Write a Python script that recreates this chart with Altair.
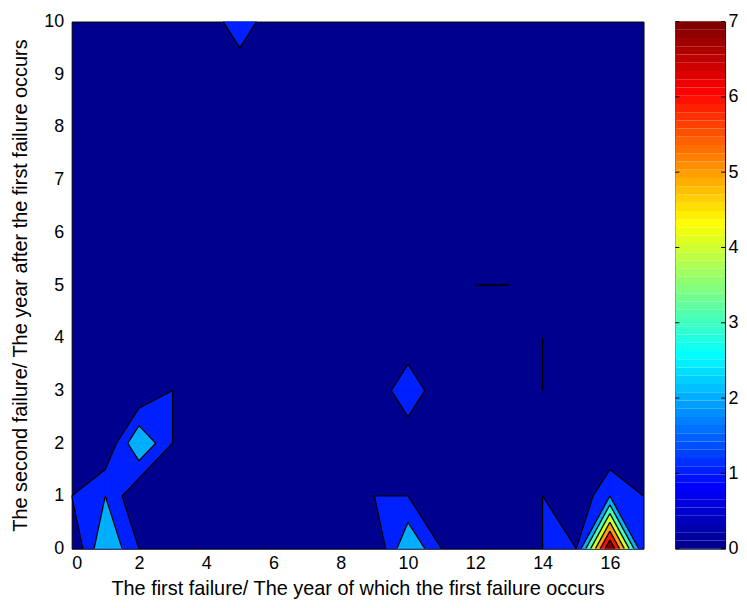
import altair as alt
import numpy as np
import pandas as pd

# ---------------- data ----------------
x_years = list(range(18))          # first failure year 0..17
y_years = list(range(11))          # year after first failure 0..10
# z_grid[row = y][col = x]
z_grid = [
    [0, 3, 1, 0, 0, 0, 0, 0, 0, 0, 3, 1, 0, 0, 1, 1, 8, 1],  # y=0
    [1, 2, 0, 0, 0, 0, 0, 0, 0, 1, 1, 0, 0, 0, 1, 0, 2, 1],  # y=1
    [0, 0, 3, 1, 0, 0, 0, 0, 0, 0, 0, 0, 0, 0, 0, 0, 0, 0],  # y=2
    [0, 0, 0, 1, 0, 0, 0, 0, 0, 0, 2, 0, 0, 0, 1, 0, 0, 0],  # y=3
    [0, 0, 0, 0, 0, 0, 0, 0, 0, 0, 0, 0, 0, 0, 1, 0, 0, 0],  # y=4
    [0, 0, 0, 0, 0, 0, 0, 0, 0, 0, 0, 0, 1, 1, 0, 0, 0, 0],  # y=5
    [0, 0, 0, 0, 0, 0, 0, 0, 0, 0, 0, 0, 0, 0, 0, 0, 0, 0],  # y=6
    [0, 0, 0, 0, 0, 0, 0, 0, 0, 0, 0, 0, 0, 0, 0, 0, 0, 0],  # y=7
    [0, 0, 0, 0, 0, 0, 0, 0, 0, 0, 0, 0, 0, 0, 0, 0, 0, 0],  # y=8
    [0, 0, 0, 0, 0, 0, 0, 0, 0, 0, 0, 0, 0, 0, 0, 0, 0, 0],  # y=9
    [0, 0, 0, 0, 0, 2, 0, 0, 0, 0, 0, 0, 0, 0, 0, 0, 0, 0],  # y=10
]
levels = [1, 2, 3, 4, 5, 6, 7]
cbar_ticks = [0, 1, 2, 3, 4, 5, 6, 7]
x_ticks = [0, 2, 4, 6, 8, 10, 12, 14, 16]
y_ticks = list(range(11))
c_min, c_max = 0, 7
x_title = "The first failure/ The year of which the first failure occurs"
y_title = "The second failure/ The year after the first failure occurs"


# ---------------- MATLAB jet colormap ----------------
def jet(n=64):
    m = int(np.ceil(n / 4))
    u = np.concatenate([np.arange(1, m + 1) / m, np.ones(m - 1), np.arange(m, 0, -1) / m])
    g = int(np.ceil(m / 2)) - (1 if n % 4 == 1 else 0) + np.arange(1, len(u) + 1)
    r = g + m
    b = g - m
    J = np.zeros((n, 3))
    J[r[r <= n] - 1, 0] = u[r <= n]
    J[g[g <= n] - 1, 1] = u[g <= n]
    J[b[b >= 1] - 1, 2] = u[b >= 1]
    return J


JET = jet(64)


def to_hex(rgb):
    return "#%02x%02x%02x" % tuple(int(round(255 * v)) for v in rgb)


def level_color(v):
    idx = min(int((v - c_min) / (c_max - c_min) * 64), 63)
    return to_hex(JET[idx])


band_colors = [level_color(L) for L in levels]
background = level_color(0)

# ---------------- filled contours (marching squares per cell) ----------------
nx, ny = len(x_years), len(y_years)
poly_rows, seg_rows = [], []
pid = 0
for L in levels:
    for j in range(ny - 1):
        for i in range(nx - 1):
            corners = [(x_years[i], y_years[j]), (x_years[i + 1], y_years[j]),
                       (x_years[i + 1], y_years[j + 1]), (x_years[i], y_years[j + 1])]
            vals = [z_grid[j][i], z_grid[j][i + 1], z_grid[j + 1][i + 1], z_grid[j + 1][i]]
            s = [v >= L for v in vals]
            if not any(s):
                continue

            def cross(k):
                (xa, ya), (xb, yb) = corners[k], corners[(k + 1) % 4]
                a, b = vals[k], vals[(k + 1) % 4]
                t = (L - a) / (b - a)
                return (xa + t * (xb - xa), ya + t * (yb - ya), "x")

            saddle = s[0] == s[2] and s[1] == s[3] and s[0] != s[1]
            polys = []
            if saddle and sum(vals) / 4.0 < L:
                for k in range(4):
                    if s[k]:
                        polys.append([cross((k - 1) % 4), (corners[k][0], corners[k][1], "c"), cross(k)])
            else:
                pts = []
                for k in range(4):
                    if s[k]:
                        pts.append((corners[k][0], corners[k][1], "c"))
                    if s[k] != s[(k + 1) % 4]:
                        pts.append(cross(k))
                polys.append(pts)

            for pts in polys:
                n = len(pts)
                for k in range(n):
                    p, q = pts[k], pts[(k + 1) % n]
                    if p[2] == "x" and q[2] == "x" and (abs(p[0] - q[0]) + abs(p[1] - q[1])) > 1e-9:
                        seg_rows.append({"x": p[0], "y": p[1], "x2": q[0], "y2": q[1]})
                area = 0.0
                for k in range(n):
                    area += pts[k][0] * pts[(k + 1) % n][1] - pts[(k + 1) % n][0] * pts[k][1]
                if abs(area) < 1e-9:
                    continue
                for k, p in enumerate(pts + [pts[0]]):
                    poly_rows.append({"pid": pid, "k": k, "x": p[0], "y": p[1], "level": L})
                pid += 1

poly_df = pd.DataFrame(poly_rows)
seg_df = pd.DataFrame(seg_rows)

xscale = alt.Scale(domain=[x_years[0], x_years[-1]], nice=False, zero=False)
yscale = alt.Scale(domain=[y_years[0], y_years[-1]], nice=False, zero=False)
lvl_scale = alt.Scale(domain=levels, range=band_colors)

fills = alt.Chart(poly_df).mark_line(strokeWidth=0.6, strokeJoin="miter", clip=True).encode(
    x=alt.X("x:Q", scale=xscale,
            axis=alt.Axis(values=x_ticks, title=x_title, ticks=False, domain=False, grid=False,
                          labelPadding=6, titlePadding=6, format="d")),
    y=alt.Y("y:Q", scale=yscale,
            axis=alt.Axis(values=y_ticks, title=y_title, ticks=False, domain=False, grid=False,
                          labelPadding=8, titlePadding=13, format="d")),
    detail="pid:N",
    order="k:Q",
    fill=alt.Fill("level:O", scale=lvl_scale, legend=None),
    stroke=alt.Stroke("level:O", scale=lvl_scale, legend=None),
)

lines = alt.Chart(seg_df).mark_rule(color="black", strokeWidth=1.3, clip=True).encode(
    x=alt.X("x:Q", scale=xscale), y=alt.Y("y:Q", scale=yscale), x2="x2:Q", y2="y2:Q"
)

main = alt.layer(fills, lines).properties(
    width=575, height=530,
    view=alt.ViewBackground(fill=background, stroke="black", strokeWidth=1),
)

# ---------------- colorbar ----------------
cb_df = pd.DataFrame({
    "idx": list(range(64)),
    "lo": [c_min + (c_max - c_min) * k / 64 for k in range(64)],
    "hi": [c_min + (c_max - c_min) * (k + 1) / 64 for k in range(64)],
})
cb_scale = alt.Scale(domain=[c_min, c_max], nice=False, zero=False)
cb_rects = alt.Chart(cb_df).mark_rect().encode(
    y=alt.Y("lo:Q", scale=cb_scale,
            axis=alt.Axis(orient="right", values=cbar_ticks, title=None, ticks=False, domain=False,
                          grid=False, labelPadding=3, format="d")),
    y2="hi:Q",
    color=alt.Color("idx:O", scale=alt.Scale(domain=list(range(64)), range=[to_hex(c) for c in JET]),
                    legend=None),
)
tick_df = pd.DataFrame({"t": cbar_ticks})
cb_ticks_l = alt.Chart(tick_df).mark_rule(color="black", strokeWidth=1).encode(
    y=alt.Y("t:Q", scale=cb_scale), x=alt.value(0), x2=alt.value(4)
)
cb_ticks_r = alt.Chart(tick_df).mark_rule(color="black", strokeWidth=1).encode(
    y=alt.Y("t:Q", scale=cb_scale), x=alt.value(46), x2=alt.value(50)
)
cbar = alt.layer(cb_rects, cb_ticks_l, cb_ticks_r).properties(
    width=50, height=530,
    view=alt.ViewBackground(stroke="black", strokeWidth=1),
)

chart = alt.hconcat(main, cbar, spacing=30).properties(
    padding={"left": 2, "top": 2, "right": 0, "bottom": 0}
).configure_axis(
    labelFont="Liberation Sans", titleFont="Liberation Sans", labelFontSize=18, titleFontSize=20,
    titleFontWeight="normal", labelColor="black", titleColor="black",
).configure_view(strokeWidth=1)

chart.save("out.html", embed_options={"renderer": "svg", "actions": False})
